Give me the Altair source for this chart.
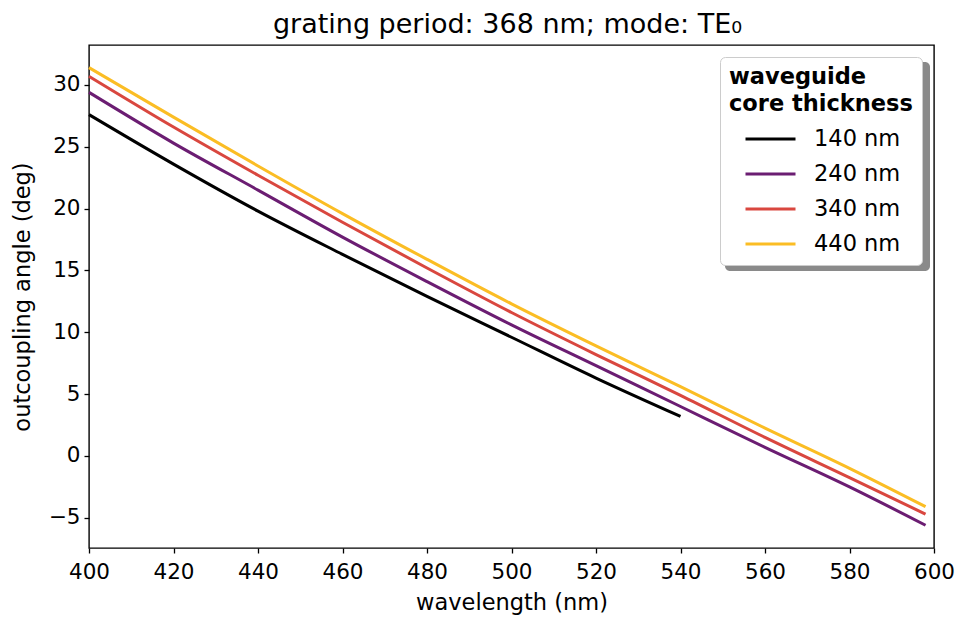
import altair as alt
import pandas as pd

# wavelengths (nm)
wl_long = [400, 420, 440, 460, 480, 500, 520, 540, 560, 580, 598]
wl_140 = [400, 420, 440, 460, 480, 500, 520, 540]

# outcoupling angles (deg)
ang_140 = [27.6, 23.6, 19.8, 16.3, 12.9, 9.6, 6.3, 3.2]
ang_240 = [29.4, 25.3, 21.5, 17.7, 14.1, 10.6, 7.3, 4.0, 0.7, -2.5, -5.6]
ang_340 = [30.7, 26.6, 22.7, 18.9, 15.2, 11.6, 8.2, 4.9, 1.5, -1.75, -4.7]
ang_440 = [31.4, 27.4, 23.45, 19.6, 15.9, 12.3, 8.9, 5.6, 2.25, -1.0, -4.1]

series_names = ["140 nm", "240 nm", "340 nm", "440 nm"]
series_colors = ["#000000", "#6b1d72", "#d9473f", "#fbbd24"]

x_ticks = [400, 420, 440, 460, 480, 500, 520, 540, 560, 580, 600]
y_ticks = [-5, 0, 5, 10, 15, 20, 25, 30]

rows = []
for name, wls, angs in [
    ("140 nm", wl_140, ang_140),
    ("240 nm", wl_long, ang_240),
    ("340 nm", wl_long, ang_340),
    ("440 nm", wl_long, ang_440),
]:
    for w, a in zip(wls, angs):
        rows.append({"wavelength": w, "angle": a, "thickness": name})
df = pd.DataFrame(rows)

FONT = "DejaVu Sans"
FS = 22.5
TFS = 21.5

lines = alt.Chart(df).mark_line(strokeWidth=3, interpolate="monotone").encode(
    x=alt.X(
        "wavelength:Q",
        scale=alt.Scale(domain=[400, 600], nice=False, zero=False),
        axis=alt.Axis(values=x_ticks, title="wavelength (nm)", format="d", labelFlush=False),
    ),
    y=alt.Y(
        "angle:Q",
        scale=alt.Scale(domain=[-7.44, 33.23], nice=False, zero=False),
        axis=alt.Axis(values=y_ticks, title="outcoupling angle (deg)", format="d", labelFlush=False),
    ),
    color=alt.Color(
        "thickness:N",
        scale=alt.Scale(domain=series_names, range=series_colors),
        sort=series_names,
        title=["waveguide", "core thickness"],
        legend=alt.Legend(
            orient="none",
            legendX=631,
            legendY=12,
            padding=9,
            fillColor="white",
            strokeColor="#cccccc",
            cornerRadius=5,
            titleFont=FONT,
            titleFontSize=FS,
            titleFontWeight="bold",
            titleColor="black",
            titleLineHeight=27,
            titlePadding=12,
            titleLimit=500,
            labelFont=FONT,
            labelFontSize=FS,
            labelColor="black",
            labelLimit=300,
            labelOffset=32,
            symbolType="M-2.5,0H2.5",
            symbolSize=400,
            symbolStrokeWidth=3,
            symbolOffset=30,
            rowPadding=12,
        ),
    ),
    detail="thickness:N",
)

# drop shadow behind the legend box (decoration)
shadow = alt.Chart(pd.DataFrame({"s": [0]})).mark_rect(
    color="#8a8a8a", cornerRadius=5
).encode(
    x=alt.value(636), x2=alt.value(841), y=alt.value(17), y2=alt.value(226)
)

chart = (
    alt.layer(shadow, lines)
    .properties(
        width=845,
        height=503,
        title=alt.TitleParams(
            "grating period: 368 nm; mode: TE₀",
            font=FONT,
            fontSize=27,
            fontWeight="normal",
            color="black",
            anchor="middle",
            offset=6,
            dx=-4,
        ),
        autosize=alt.AutoSizeParams(type="none"),
        padding={"left": 81, "top": 37, "right": 21, "bottom": 67},
    )
    .configure_view(stroke="black", strokeWidth=1.4)
    .configure_axis(
        labelFont=FONT,
        labelFontSize=TFS,
        labelColor="black",
        titleFont=FONT,
        titleFontSize=FS,
        titleFontWeight="normal",
        titleColor="black",
        tickColor="black",
        tickSize=5,
        tickWidth=1.3,
        grid=False,
        domain=False,
    )
    .configure_axisX(titlePadding=9, labelPadding=8)
    .configure_axisY(titlePadding=14, labelPadding=4)
)

chart.save("out.html", embed_options={"renderer": "svg", "actions": False})
